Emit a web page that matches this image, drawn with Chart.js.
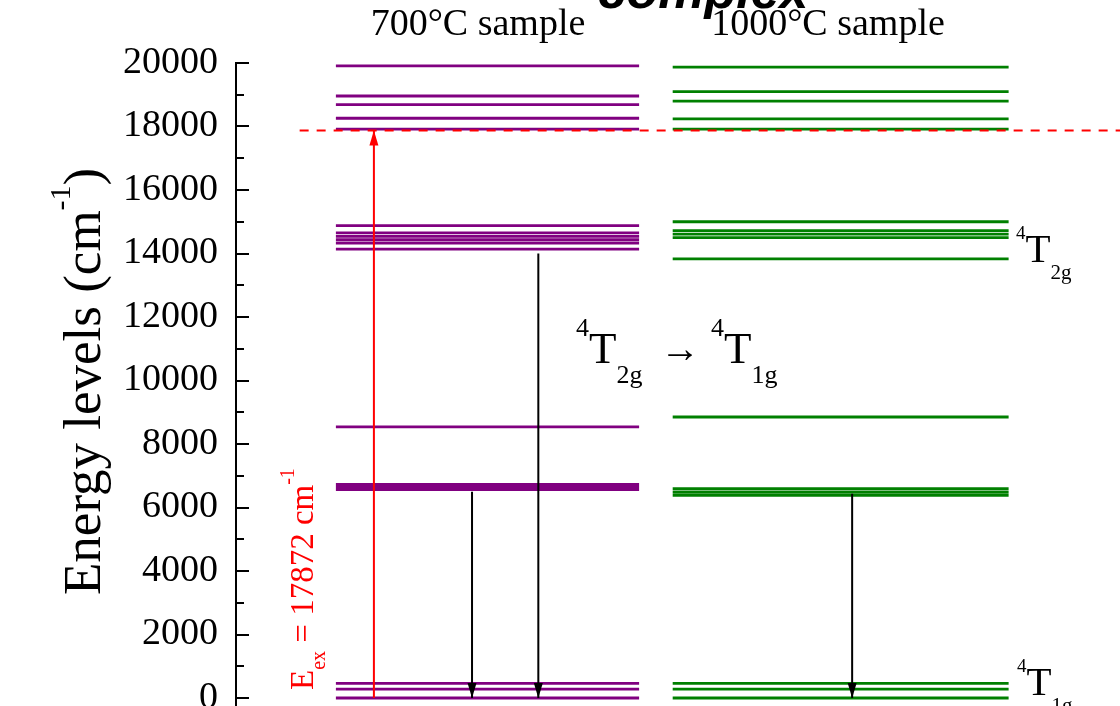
<!DOCTYPE html>
<html>
<head>
<meta charset="utf-8">
<script src="https://cdn.jsdelivr.net/npm/chart.js@4.4.1/dist/chart.umd.min.js"></script>
<style>
  html, body { margin: 0; padding: 0; background: #fff; overflow: hidden; }
</style>
</head>
<body>
<canvas id="levels" width="1120" height="706"></canvas>
<script>
// energy levels in cm-1
const samples = ['700°C sample', '1000°C sample'];
const levels700 = [19910, 18960, 18690, 18260, 17920,
                   14880, 14650, 14540, 14440, 14330, 14140,
                   8540, 6730, 6645, 6560, 460, 280, 0];
const levels1000 = [19870, 19100, 18800, 18240, 17920,
                    15000, 14720, 14610, 14500, 13830,
                    8850, 6590, 6480, 6380, 460, 280, 0];
const excitation = 17872;
const emission700 = [6500, 14000];   // arrows start (end at 0)
const emission1000 = [6430];
const yTicks = [0, 2000, 4000, 6000, 8000, 10000, 12000, 14000, 16000, 18000, 20000];

// layout in x-scale units (0..100 across the plot)
const col700 = [11.3, 45.6];
const col1000 = [49.4, 87.4];
const excX = 15.6;
const emisX700 = [26.7, 34.2];
const emisX1000 = [69.7];
const dashFrom = 7.2;

const PURPLE = '#800080', GREEN = '#008000', RED = '#ff0000';
const SERIF = "'Liberation Serif', 'Times New Roman', serif";

function levelData(vals, col) {
  const pts = [];
  vals.forEach(v => { pts.push({x: col[0], y: v}, {x: col[1], y: v}, {x: col[1], y: null}); });
  return pts;
}

const datasets = [
  {label: samples[0], data: levelData(levels700, col700), borderColor: PURPLE, borderWidth: 2.8, order: 1, clip: 6},
  {label: samples[1], data: levelData(levels1000, col1000), borderColor: GREEN, borderWidth: 2.8, order: 1, clip: 6},
  {label: 'Eex', data: [{x: dashFrom, y: excitation}, {x: 100, y: excitation}],
   borderColor: RED, borderWidth: 2, borderDash: [9, 8], order: 0},
  {label: 'exc', data: [{x: excX, y: 0}, {x: excX, y: excitation}], borderColor: RED, borderWidth: 2, order: 0, head: true}
];
emission700.forEach((v, i) => datasets.push({label: 'em', data: [{x: emisX700[i], y: v}, {x: emisX700[i], y: 0}],
  borderColor: '#000', borderWidth: 2, order: 0, head: true}));
emission1000.forEach((v, i) => datasets.push({label: 'em', data: [{x: emisX1000[i], y: v}, {x: emisX1000[i], y: 0}],
  borderColor: '#000', borderWidth: 2, order: 0, head: true}));

function rich(ctx, x, y, parts) {
  let cx = x;
  parts.forEach(p => {
    ctx.font = p.f;
    ctx.fillText(p.t, cx, y + (p.dy || 0));
    cx += ctx.measureText(p.t).width + (p.gap || 0);
  });
}

const decor = {
  id: 'decor',
  afterDatasetsDraw(chart) {
    const ctx = chart.ctx, area = chart.chartArea, ys = chart.scales.y;
    ctx.save();
    // arrow heads
    chart.data.datasets.forEach((ds, i) => {
      if (!ds.head) return;
      const pts = chart.getDatasetMeta(i).data;
      const a = pts[0], b = pts[1];
      const dir = b.y < a.y ? -1 : 1;
      ctx.fillStyle = ds.borderColor;
      ctx.beginPath();
      ctx.moveTo(b.x, b.y);
      ctx.lineTo(b.x - 4.5, b.y - dir * 15);
      ctx.lineTo(b.x + 4.5, b.y - dir * 15);
      ctx.closePath();
      ctx.fill();
    });
    // inward ticks on y axis
    ctx.strokeStyle = '#000';
    ctx.lineWidth = 2;
    ctx.beginPath();
    for (let v = ys.min; v <= ys.max; v += 1000) {
      const y = Math.round(ys.getPixelForValue(v));
      const len = v % 2000 === 0 ? 13 : 8;
      ctx.moveTo(area.left, y);
      ctx.lineTo(area.left + len, y);
    }
    ctx.moveTo(area.left, area.bottom);
    ctx.lineTo(area.left, chart.height);
    ctx.stroke();

    ctx.fillStyle = '#000';
    ctx.textBaseline = 'alphabetic';
    // title (cut at top)
    ctx.textAlign = 'center';
    ctx.font = "italic bold 52px 'Liberation Sans', Arial, sans-serif";
    ctx.fillText('complex', 703, 8);
    // sample captions
    ctx.font = '38px ' + SERIF;
    ctx.fillText(samples[0], 478, 35);
    ctx.fillText(samples[1], 828, 35);
    ctx.textAlign = 'left';

    // transition label
    const big = '45px ' + SERIF, sm = '26px ' + SERIF;
    rich(ctx, 576, 363, [{t: '4', f: sm, dy: -27}, {t: 'T', f: big}, {t: '2g', f: sm, dy: 20}]);
    ctx.font = '40px ' + SERIF;
    ctx.fillText('\u2192', 660, 362);
    rich(ctx, 711, 363, [{t: '4', f: sm, dy: -27}, {t: 'T', f: big}, {t: '1g', f: sm, dy: 20}]);

    // state labels on the right
    const mid = '41px ' + SERIF, tiny = '19px ' + SERIF, sub = '21px ' + SERIF;
    rich(ctx, 1016, 262, [{t: '4', f: tiny, dy: -23}, {t: 'T', f: mid}, {t: '2g', f: sub, dy: 17}]);
    rich(ctx, 1017, 695, [{t: '4', f: tiny, dy: -23}, {t: 'T', f: mid}, {t: '1g', f: sub, dy: 17}]);

    // y axis title
    ctx.save();
    ctx.translate(100, 595);
    ctx.rotate(-Math.PI / 2);
    rich(ctx, 0, 0, [{t: 'Energy levels (cm', f: '53px ' + SERIF}, {t: '-1', f: '30px ' + SERIF, dy: -30},
      {t: ')', f: '53px ' + SERIF}]);
    ctx.restore();

    // excitation label
    ctx.save();
    ctx.fillStyle = RED;
    ctx.translate(313, 690);
    ctx.rotate(-Math.PI / 2);
    rich(ctx, 0, 0, [{t: 'E', f: '33px ' + SERIF}, {t: 'ex', f: '20px ' + SERIF, dy: 12},
      {t: ' = ' + excitation + ' cm', f: '33px ' + SERIF}, {t: '-1', f: '20px ' + SERIF, dy: -19}]);
    ctx.restore();
    ctx.restore();
  }
};

new Chart(document.getElementById('levels'), {
  type: 'line',
  data: {datasets},
  options: {
    responsive: false,
    animation: false,
    layout: {padding: {top: 63, bottom: 8, left: 0, right: 0}},
    plugins: {legend: {display: false}, tooltip: {enabled: false}},
    elements: {point: {radius: 0, hoverRadius: 0}, line: {tension: 0}},
    scales: {
      x: {type: 'linear', min: 0, max: 100, display: false},
      y: {
        min: 0, max: 20000,
        afterBuildTicks: s => { s.ticks = yTicks.map(v => ({value: v})); },
        afterFit: s => { s.width = 236; s.paddingTop = 0; s.paddingBottom = 0; },
        ticks: {font: {family: SERIF, size: 38}, color: '#000', padding: 18, autoSkip: false,
                callback: v => String(v)},
        grid: {drawOnChartArea: false, drawTicks: false},
        border: {color: '#000', width: 2}
      }
    }
  },
  plugins: [decor]
});
</script>
</body>
</html>
